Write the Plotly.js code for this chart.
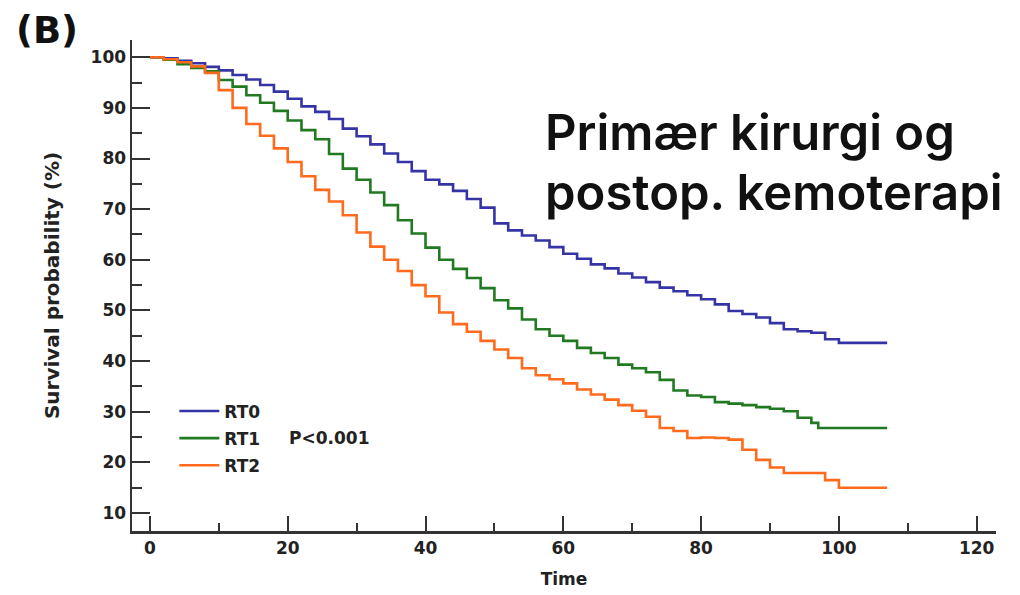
<!DOCTYPE html>
<html>
<head>
<meta charset="utf-8">
<script src="https://cdn.plot.ly/plotly-3.0.1.min.js"></script>
<style>html,body{margin:0;padding:0;background:#fff;}#chart{width:1020px;height:595px;}</style>
</head>
<body>
<div id="chart"></div>
<script>
// Kaplan-Meier style survival curves
const seriesNames = ["RT0", "RT1", "RT2"];

const timeRT0 = [0,2,4,6,8,10,12,14,16,18,20,22,24,26,28,30,32,34,36,38,40,42,44,46,48,50,52,54,56,58,60,62,64,66,68,70,72,74,76,78,80,82,84,86,88,90,92,94,96,98,100,107];
const survRT0 = [100,99.8,99.3,98.8,98.1,97.4,96.5,95.6,94.5,93.2,91.8,90.3,89.2,87.8,85.9,84.4,82.8,81,79.3,77.5,75.8,74.9,73.6,72,70.3,67.2,65.8,64.8,63.8,62.5,61.2,60.2,59.1,58.3,57.3,56.5,55.6,54.5,53.8,53,52.2,51.2,49.9,49.3,48.6,47.5,46.3,45.9,45.6,44.3,43.6,43.6];

const timeRT1 = [0,2,4,6,8,10,12,14,16,18,20,22,24,26,28,30,32,34,36,38,40,42,44,46,48,50,52,54,56,58,60,62,64,66,68,70,72,74,76,78,80,82,84,86,88,90,92,94,96,97,107];
const survRT1 = [100,99.5,98.6,97.9,97.2,95.5,94.2,92.5,91,89.4,87.5,85.6,83.8,80.9,78,75.8,73.3,70.8,67.8,65.2,62.4,60,58.2,56.4,54.4,52,50.4,48.2,46.3,45,44,42.6,41.6,40.6,39.3,38.6,37.8,36.3,34.2,33.2,32.9,31.9,31.6,31.3,30.9,30.6,30.1,28.8,27.8,26.8,26.8];

const timeRT2 = [0,2,4,6,8,10,12,14,16,18,20,22,24,26,28,30,32,34,36,38,40,42,44,46,48,50,52,54,56,58,60,62,64,66,68,70,72,74,76,78,80,82,84,86,88,90,92,94,96,98,100,107];
const survRT2 = [100,99.6,99,98.2,96.9,93.5,90,86.8,84.5,82,79.3,76.5,73.8,71.5,68.8,65.4,62.6,60,57.8,55,52.8,49.6,47.3,45.8,44,42.3,40.6,38.6,37.2,36.4,35.6,34.4,33.4,32.4,31.3,30.2,29,26.8,26.2,24.8,24.9,24.8,24.5,22.5,20.5,19,17.9,17.9,17.9,16.5,15,15];

const xTickVals = [0,20,40,60,80,100,120];
const yTickVals = [10,20,30,40,50,60,70,80,90,100];

const colors = ["#3434a6", "#217a21", "#ff6a1c"];
const times = [timeRT0, timeRT1, timeRT2];
const survs = [survRT0, survRT1, survRT2];

const traces = seriesNames.map((n, i) => ({
  x: times[i], y: survs[i], name: n, type: "scatter", mode: "lines",
  line: {shape: "hv", color: colors[i], width: 2.6},
  legendgroup: "g" + i
}));

const FAM = "DejaVu Sans, Verdana, sans-serif";
const tickFont = {family: FAM, size: 17, color: "#222", weight: "bold"};

const layout = {
  width: 1020, height: 595,
  margin: {l: 132, r: 24, t: 40, b: 64, pad: 0},
  paper_bgcolor: "#fff", plot_bgcolor: "#fff",
  showlegend: true,
  legend: {
    x: 0.049, y: 0.28, xanchor: "left", yanchor: "top",
    font: {family: FAM, size: 17, color: "#222", weight: "bold"},
    bgcolor: "rgba(0,0,0,0)", tracegroupgap: 2, traceorder: "grouped",
    itemwidth: 40
  },
  xaxis: {
    range: [-2.6, 122.8], showgrid: false, zeroline: false,
    showline: true, linecolor: "#333", linewidth: 2.5,
    tickmode: "array", tickvals: xTickVals, ticktext: xTickVals.map(String),
    ticks: "inside", ticklen: 15, tickwidth: 2, tickcolor: "#333",
    minor: {dtick: 10, tick0: 0, ticks: "inside", ticklen: 8, tickwidth: 2, tickcolor: "#333", showgrid: false},
    tickfont: tickFont,
    title: {text: "Time", font: {family: FAM, size: 17, color: "#222", weight: "bold"}, standoff: 16}
  },
  yaxis: {
    range: [6.45, 103.4], showgrid: false, zeroline: false,
    showline: true, linecolor: "#333", linewidth: 2.5,
    tickmode: "array", tickvals: yTickVals, ticktext: yTickVals.map(String),
    ticks: "inside", ticklen: 18, tickwidth: 2, tickcolor: "#333",
    minor: {dtick: 5, tick0: 0, ticks: "inside", ticklen: 10, tickwidth: 2, tickcolor: "#333", showgrid: false},
    tickfont: tickFont,
    title: {text: "Survival probability (%)", font: {family: FAM, size: 20, color: "#222", weight: "bold"}, standoff: 26}
  },
  annotations: [
    {xref: "paper", yref: "paper", x: -0.098, y: 1.02, xanchor: "center", yanchor: "middle",
     text: "(B)", showarrow: false, font: {family: FAM, size: 37, color: "#111", weight: "bold"}},
    {xref: "paper", yref: "paper", x: 0.476, y: (531 - 132) / 491, xanchor: "left", yanchor: "middle", align: "left",
     text: "Primær kirurgi og", showarrow: false,
     font: {family: "Inter, Noto Sans, sans-serif", size: 49, color: "#111", weight: 600}},
    {xref: "paper", yref: "paper", x: 0.476, y: (531 - 192) / 491, xanchor: "left", yanchor: "middle", align: "left",
     text: "postop. kemoterapi", showarrow: false,
     font: {family: "Inter, Noto Sans, sans-serif", size: 49, color: "#111", weight: 600}},
    {xref: "paper", yref: "paper", x: 0.179, y: 0.189, xanchor: "left", yanchor: "middle",
     text: "P<0.001", showarrow: false, font: {family: FAM, size: 17, color: "#222", weight: "bold"}}
  ]
};

Plotly.newPlot("chart", traces, layout, {displayModeBar: false, staticPlot: true});
</script>
</body>
</html>
